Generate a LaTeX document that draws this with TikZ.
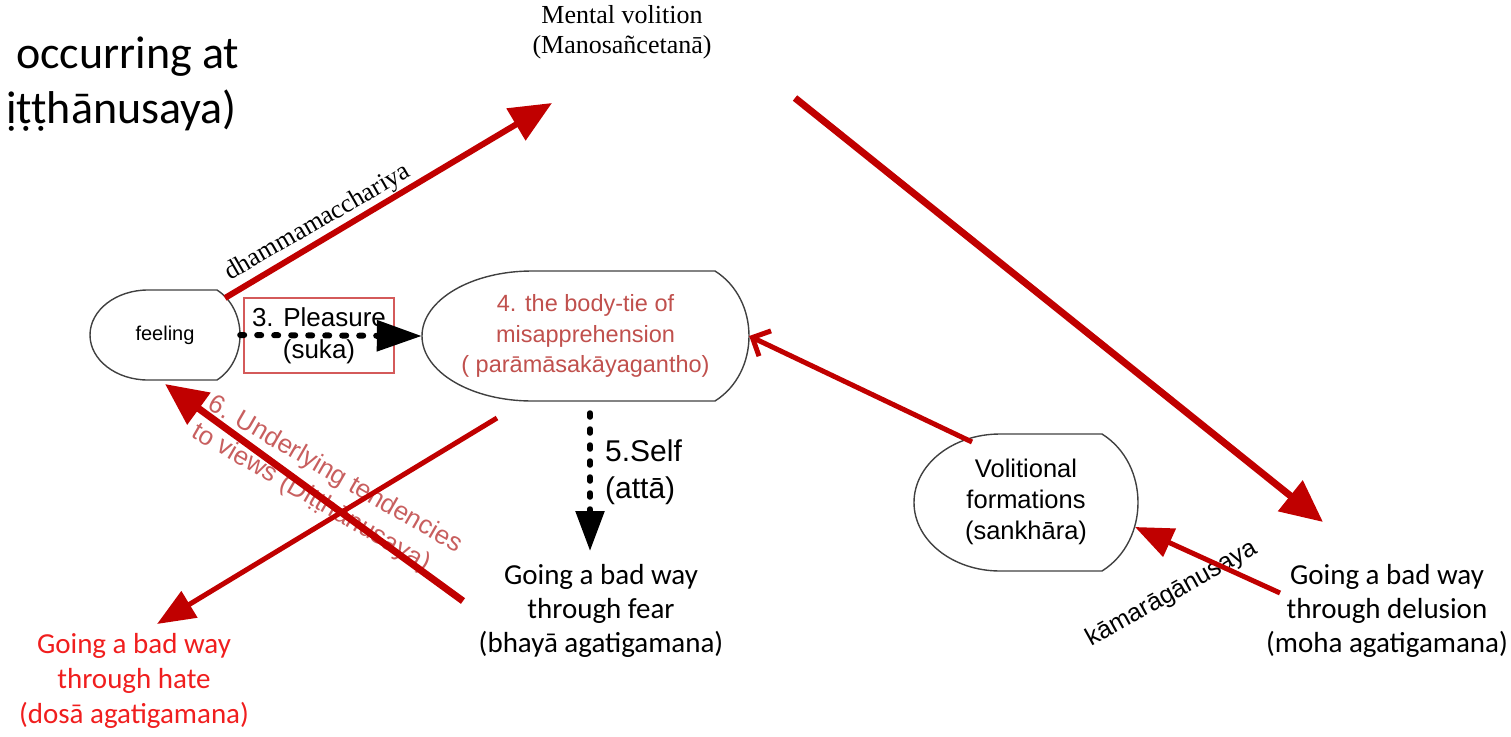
\documentclass[tikz,border=0pt]{standalone}
\usepackage{fontspec}
\setmainfont{Liberation Sans}
\newfontfamily\calibri{Carlito}
\newfontfamily\timesf{Liberation Serif}
\usetikzlibrary{arrows.meta}

\definecolor{arrowred}{RGB}{192,0,0}
\definecolor{accred}{RGB}{192,80,77}
\definecolor{labelred}{RGB}{200,95,95}
\definecolor{hatered}{RGB}{240,30,30}
\definecolor{boxred}{RGB}{212,90,90}

% display-like outline: left x, flat start, flat end, right x, top y, bottom y
\newcommand\dshape[6]{%
  \draw[outline] (#3,#5) -- (#2,#5)
    .. controls ({#2-0.5523*(#2-#1)},#5) and (#1,{(#5+#6)/2-0.5523*(#6-#5)/2}) .. (#1,{(#5+#6)/2})
    .. controls (#1,{(#5+#6)/2+0.5523*(#6-#5)/2}) and ({#2-0.5523*(#2-#1)},#6) .. (#2,#6)
    -- (#3,#6)
    .. controls ({#3+1.3333*(#4-#3)},{#6-0.22*(#6-#5)}) and ({#3+1.3333*(#4-#3)},{#5+0.22*(#6-#5)}) .. (#3,#5)
    -- cycle;}

\begin{document}
\begin{tikzpicture}[x=1pt,y=-1pt,
  outline/.style={draw=black!75, line width=1.4pt},
  txt/.style={inner sep=0pt, align=center},
  boxnode/.style={inner sep=0pt, align=center, draw=none},
  rline/.style={draw=arrowred, line cap=butt},
  bigtip/.style={-{Triangle[length=42pt, width=36pt]}},
  midtip/.style={-{Triangle[length=38pt, width=30pt]}},
  dotline/.style={draw=black, line width=6pt, line cap=round, dash pattern=on 4pt off 13pt}
]
\useasboundingbox (0,0) rectangle (1511,736);
\clip (0,0) rectangle (1511,736);

% heading fragment
\node[anchor=base west, inner sep=0pt, font=\calibri\fontsize{46}{55}\selectfont] (occ) at (16,68) {occurring at};
\node[anchor=base east, inner sep=0pt, font=\calibri\fontsize{46}{55}\selectfont] (ditt) at (237,123) {ịṭṭhānusaya)};

% outlines of the three display shapes
\dshape{90}{148}{217}{240}{290}{380}
\dshape{422}{532}{715}{749}{271}{401}
\dshape{914}{1000}{1102}{1138}{434}{571}

% nodes
\node[boxnode, minimum width=150pt, minimum height=90pt, font=\fontsize{20}{24}\selectfont] (feeling) at (165,335) {feeling};
\node[boxnode, minimum width=327pt, minimum height=130pt, text=accred, font=\fontsize{23.5}{30.5}\selectfont] (body) at (585.5,336) {4. the body-tie of\\misapprehension\\( parāmāsakāyagantho)};
\node[boxnode, minimum width=224pt, minimum height=137pt, font=\fontsize{25.5}{31}\selectfont] (volit) at (1026,502) {Volitional\\formations\\(sankhāra)};
\node[txt, draw=boxred, line width=2pt, minimum width=150pt, minimum height=75pt, font=\fontsize{26}{32}\selectfont] (pleasure) at (319,335.5) {3. Pleasure\\(suka)};

\node[txt, font=\timesf\fontsize{26}{30}\selectfont] (mental) at (622,32) {Mental volition\\(Manosañcetanā)};
\node[txt, font=\calibri\fontsize{29}{34}\selectfont] (fear) at (601,611) {Going a bad way\\through fear\\(bhayā agatigamana)};
\node[txt, text=hatered, font=\calibri\fontsize{29}{35}\selectfont] (hate) at (134,681) {Going a bad way\\through hate\\(dosā agatigamana)};
\node[txt, font=\calibri\fontsize{29}{34}\selectfont] (delus) at (1387,611) {Going a bad way\\through delusion\\(moha agatigamana)};

\node[txt, align=left, anchor=west, font=\fontsize{30}{37}\selectfont] (self) at (605,472) {5.Self\\(attā)};

% rotated labels
\node[txt, rotate=30, font=\timesf\fontsize{26}{30}\selectfont] (dhamma) at (318,223) {dhammamacchariya};
\node[txt, rotate=29, font=\fontsize{25}{30}\selectfont] (kama) at (1172,594) {kāmarāgānusaya};
\node[txt, align=left, rotate=-30, text=labelred, font=\fontsize{26}{32}\selectfont] (under) at (327,489) {6. Underlying tendencies\\to views (Diṭṭhānusaya)};

% free ends of connectors
\coordinate (feelTR) at (225,298);
\coordinate (mentalIn) at (552,103);
\coordinate (mentalOut) at (795,98);
\coordinate (delusIn) at (1323,522);
\coordinate (volitTL) at (972,442);
\coordinate (delusOut) at (1280,593);
\coordinate (volitIn) at (1135,527);
\coordinate (bodyBL) at (497,418);
\coordinate (hateIn) at (157,624);
\coordinate (fearOut) at (463,601);
\coordinate (feelIn) at (165,384);
\coordinate (selfTop) at (590,413);
\coordinate (fearIn) at (590,551);

% black dotted connectors
\draw[dotline, -{Triangle[length=45pt, width=30pt]}] (feeling.east) -- (body.west);
\draw[draw=black, line width=5.5pt, line cap=round, dash pattern=on 4pt off 12pt, -{Triangle[length=40pt, width=28pt]}] (selfTop) -- (fearIn);

% red connectors
\draw[rline, line width=6pt, bigtip] (feelTR) -- (mentalIn);
\draw[rline, line width=7pt, -{Triangle[length=42pt, width=38pt]}] (mentalOut) -- (delusIn);
\draw[rline, line width=5pt, -{Straight Barb[length=14pt, width=28pt]}] (volitTL) -- (body.east);
\draw[rline, line width=5pt, midtip] (delusOut) -- (volitIn);
\draw[rline, line width=5pt, midtip] (bodyBL) -- (hateIn);
\draw[rline, line width=7pt, -{Triangle[length=42pt, width=38pt]}] (fearOut) -- (feelIn);
\end{tikzpicture}
\end{document}
